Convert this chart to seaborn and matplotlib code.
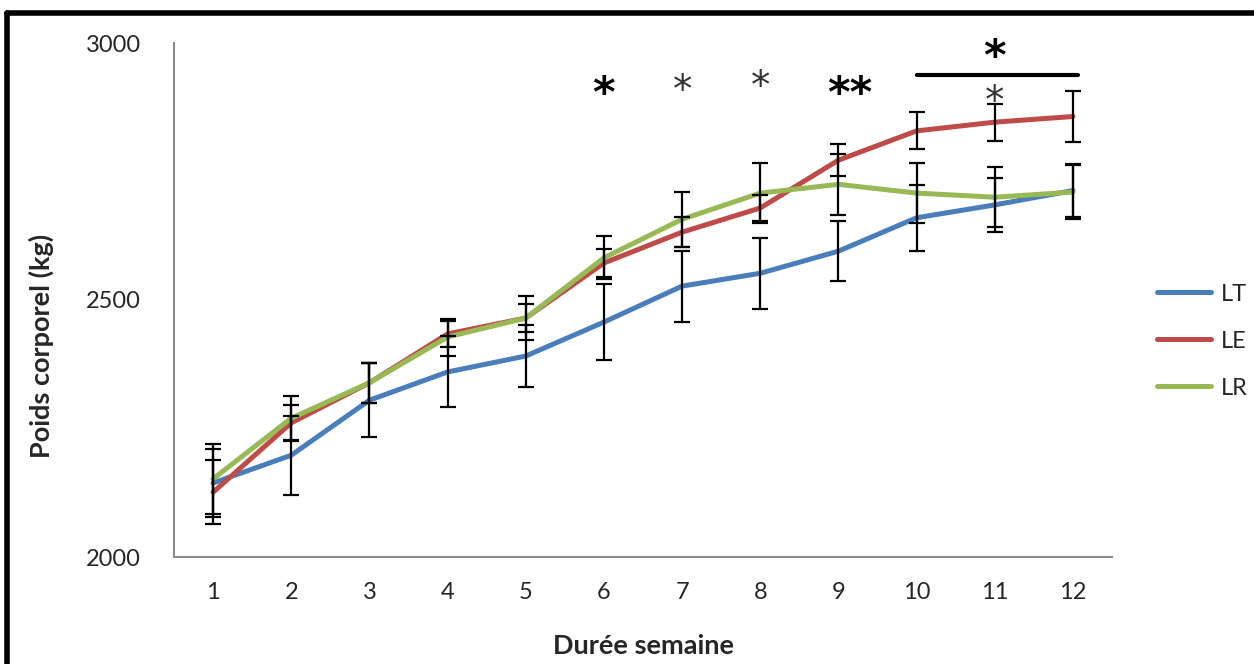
import numpy as np
import pandas as pd
import matplotlib
matplotlib.use("Agg")
import matplotlib.pyplot as plt
from matplotlib.lines import Line2D
import seaborn as sns

# semaines et poids moyens
semaines = list(range(1, 13))
lt_poids = [2144, 2198, 2305, 2360, 2391, 2457, 2527, 2552, 2595, 2660, 2685, 2713]
le_poids = [2126, 2261, 2339, 2434, 2465, 2572, 2632, 2679, 2772, 2829, 2846, 2857]
lr_poids = [2152, 2270, 2339, 2428, 2465, 2582, 2657, 2708, 2725, 2708, 2700, 2710]

# erreurs standard
lt_err = [66, 77, 72, 69, 60, 74, 69, 69, 59, 64, 52, 52]
le_err = [62, 35, 39, 26, 28, 27, 29, 26, 31, 36, 36, 49]
lr_err = [68, 43, 39, 36, 43, 42, 54, 58, 60, 59, 58, 52]

groupes = ["LT", "LE", "LR"]
couleurs = ["#4a7ebb", "#be4b48", "#98b954"]

# étoiles de significativité: (x, y, texte, gras)
etoiles_x = [6, 7, 8, 9.15, 11, 11]
etoiles_y = [2898, 2906, 2914, 2898, 2970, 2885]
etoiles_txt = ["*", "*", "*", "**", "*", "*"]
etoiles_gras = [True, False, False, True, True, False]
barre_x = [10.0, 12.06]
barre_y = [2938, 2938]

df = pd.DataFrame({
    "semaine": semaines * 3,
    "poids": lt_poids + le_poids + lr_poids,
    "err": lt_err + le_err + lr_err,
    "groupe": [g for g in groupes for _ in semaines],
})

sns.set_style("white")
plt.rcParams["font.family"] = ["Lato", "DejaVu Sans"]

fig = plt.figure(figsize=(12.54, 6.64), dpi=100)
ax = fig.add_axes([174 / 1254, 1 - 557 / 664, (1112 - 174) / 1254, (557 - 43) / 664])

sns.lineplot(data=df, x="semaine", y="poids", hue="groupe", hue_order=groupes,
             palette=couleurs, linewidth=3.6, ax=ax, errorbar=None, legend=True)

for g in groupes:
    d = df[df.groupe == g]
    ax.errorbar(d.semaine, d.poids, yerr=d.err, fmt="none", ecolor="black",
                elinewidth=1.6, capsize=6, capthick=1.6, zorder=5)

for x, y, t, b in zip(etoiles_x, etoiles_y, etoiles_txt, etoiles_gras):
    ax.text(x, y, t, ha="center", va="center", fontsize=31 if b else 28,
            fontweight="bold" if b else "normal", color="black" if b else "#333333",
            family="DejaVu Sans")
ax.plot(barre_x, barre_y, color="black", lw=3, clip_on=False, zorder=6)

ax.set_xlim(0.5, 12.5)
ax.set_ylim(2000, 3000)
ax.set_xticks(semaines)
ax.set_yticks([2000, 2500, 3000])
ax.tick_params(axis="both", labelsize=17, length=0)
ax.tick_params(axis="x", pad=18)
ax.tick_params(axis="y", pad=24)
for s in ["top", "right"]:
    ax.spines[s].set_visible(False)
for s in ["left", "bottom"]:
    ax.spines[s].set_color("#8c8c8c")
    ax.spines[s].set_linewidth(1.5)

ax.set_xlabel("Durée semaine", fontsize=19.5, fontweight="bold", labelpad=22)
ax.set_ylabel("Poids corporel (kg)", fontsize=19.5, fontweight="bold")
ax.yaxis.set_label_coords(-0.128, 0.41)

handles, labels = ax.get_legend_handles_labels()
ax.legend(handles, labels, loc="center left", bbox_to_anchor=(1.025, 0.42),
          frameon=False, fontsize=17, handlelength=2.3, labelspacing=1.1,
          handletextpad=0.4)

# cadre noir autour de la figure
fig.add_artist(Line2D([7 / 1254, 1.0], [1 - 12.5 / 664] * 2, color="black", lw=4))
fig.add_artist(Line2D([7 / 1254] * 2, [0, 1 - 12.5 / 664], color="black", lw=4))

fig.savefig("out.png", dpi=100)
